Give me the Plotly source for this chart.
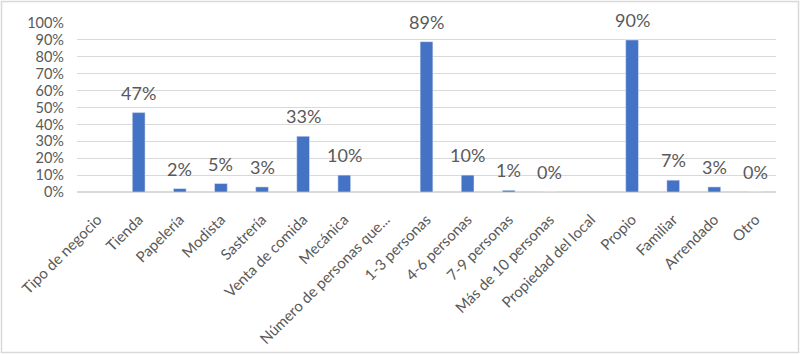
import plotly.graph_objects as go

categories = ["Tipo de negocio", "Tienda", "Papelería", "Modista", "Sastrería",
              "Venta de comida", "Mecánica", "Número de personas que...",
              "1-3 personas", "4-6 personas", "7-9 personas", "Más de 10 personas",
              "Propiedad del local", "Propio", "Familiar", "Arrendado", "Otro"]
values = [None, 0.47, 0.02, 0.05, 0.03, 0.33, 0.10, None,
          0.89, 0.10, 0.01, 0.00, None, 0.90, 0.07, 0.03, 0.00]
y_ticks = [0, 0.1, 0.2, 0.3, 0.4, 0.5, 0.6, 0.7, 0.8, 0.9, 1.0]

FONT = "Lato, 'Open Sans', sans-serif"
GREY = "#595959"

fig = go.Figure()
fig.add_trace(go.Bar(x=categories, y=values, marker_color="#4472C4",
                     width=0.31, hoverinfo="x+y"))

for c, v in zip(categories, values):
    if v is None:
        continue
    fig.add_annotation(x=c, y=v, text=f"{round(v*100)}%", showarrow=False,
                       yanchor="bottom", yshift=7,
                       font=dict(family=FONT, size=18, color=GREY))

L, R, T, B = 77, 24, 23, 162
W, H = 800, 354
pw, ph = W - L - R, H - T - B
fig.add_shape(type="rect", xref="paper", yref="paper",
              x0=-(L - 1.5) / pw, x1=1 + (R - 1.5) / pw,
              y0=-(B - 1.5) / ph, y1=1 + (T - 1.5) / ph,
              line=dict(color="#d9d9d9", width=1.5), layer="below")

fig.update_layout(
    width=W, height=H, margin=dict(l=L, r=R, t=T, b=B, autoexpand=False),
    paper_bgcolor="white", plot_bgcolor="white", showlegend=False,
    font=dict(family=FONT, size=14, color=GREY),
    xaxis=dict(type="category", tickangle=-45, showgrid=False,
               showline=True, linecolor="#d9d9d9", linewidth=1,
               ticks="", ticklabelstandoff=12, automargin=False,
               tickfont=dict(family=FONT, size=15, color=GREY)),
    yaxis=dict(range=[0, 1.0005], tickvals=y_ticks, tickformat=".0%",
               showgrid=True, gridcolor="#d9d9d9", gridwidth=1,
               zeroline=True, zerolinecolor="#d9d9d9", showline=False,
               ticks="", ticklabelstandoff=12, automargin=False,
               tickfont=dict(family=FONT, size=14.5, color=GREY)),
    bargap=0.69,
)

fig.write_html("out.html")
